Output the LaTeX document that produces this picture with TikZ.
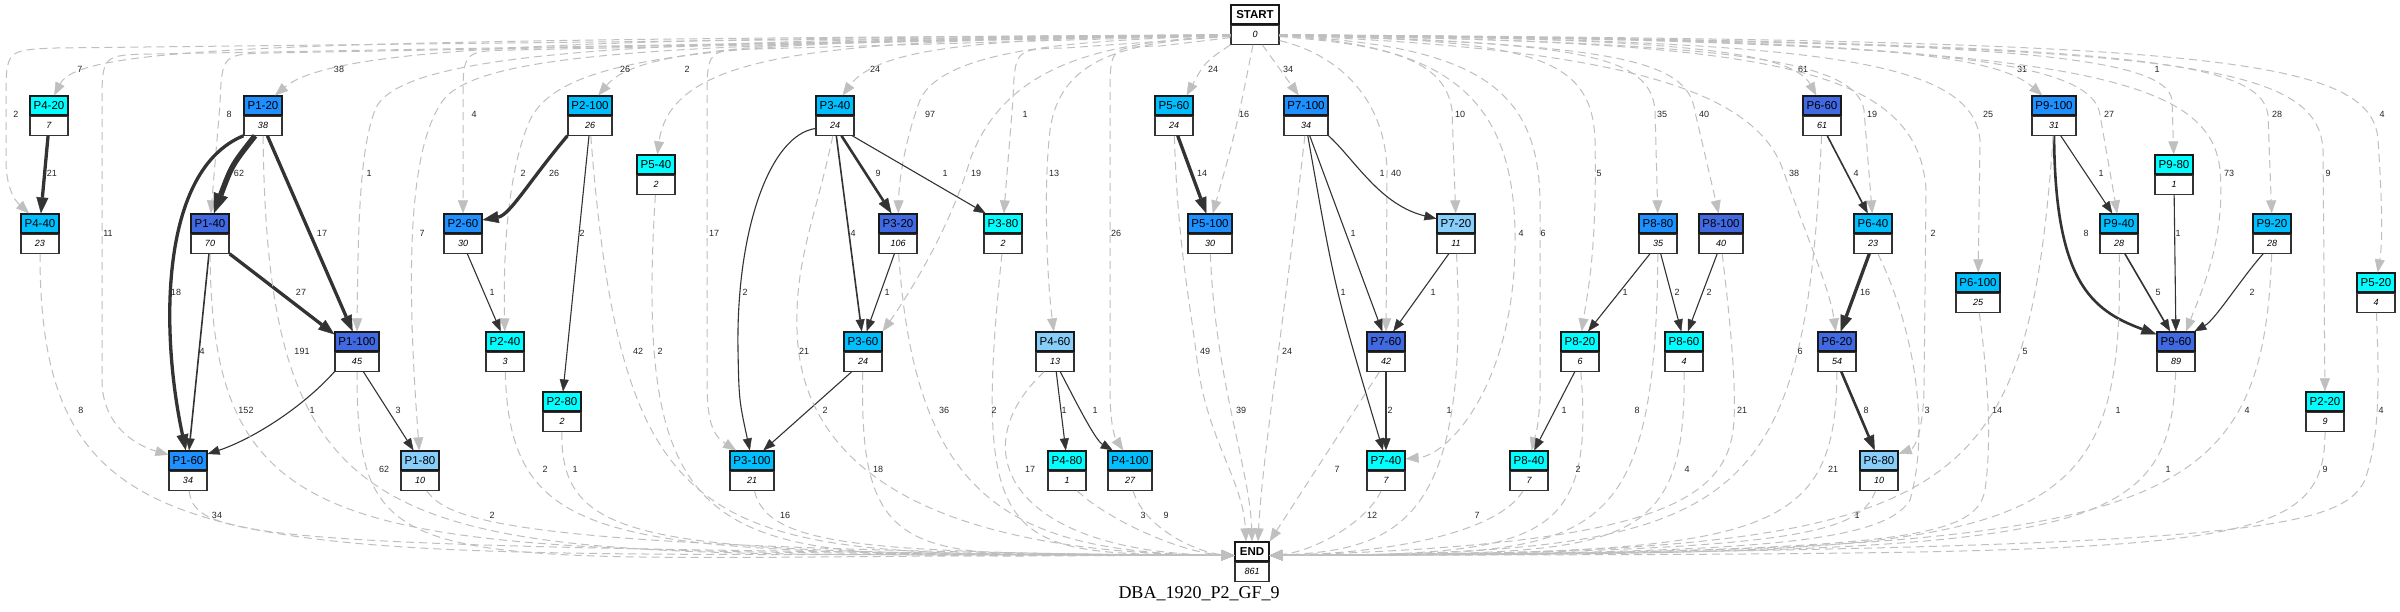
\documentclass[tikz,border=0pt]{standalone}
\usepackage{fontspec}
\setmainfont{Liberation Serif}
\setsansfont{Liberation Sans}
\usetikzlibrary{arrows.meta, positioning}

\definecolor{Cyan}{HTML}{00FFFF}
\definecolor{DeepSkyBlue}{HTML}{00BFFF}
\definecolor{DodgerBlue}{HTML}{1E90FF}
\definecolor{RoyalBlue}{HTML}{4169E1}
\definecolor{LightSkyBlue}{HTML}{87CEFA}

\tikzset{
  ttl/.style={draw=black!90, line width=1.2pt, minimum height=19pt, inner sep=0pt,
    font=\sffamily\fontsize{11.5}{12}\selectfont},
  val/.style={draw=black!80, line width=1.2pt, fill=white, minimum height=19pt, inner sep=0pt,
    font=\sffamily\itshape\fontsize{9}{10}\selectfont},
  elab/.style={font=\sffamily\fontsize{9}{10}\selectfont, text=black!85, inner sep=0pt},
  dedge/.style={draw=gray!50, line width=1pt, dash pattern=on 8pt off 5pt,
    -{Triangle[length=13pt, width=10pt, line width=0.4pt]}},
  sedge/.style={draw=black!80, line width=1.1pt,
    -{Triangle[length=12pt, width=9pt, line width=0.4pt]}},
  w2/.style={line width=1.6pt},
  w3/.style={line width=2.6pt, -{Triangle[length=15pt, width=11pt, line width=0.4pt]}},
  w4/.style={line width=3.3pt, -{Triangle[length=16pt, width=12pt, line width=0.4pt]}},
  w5/.style={line width=5.5pt, -{Triangle[length=20pt, width=15pt, line width=0.4pt]}}
}

\begin{document}
\begin{tikzpicture}[x=1pt, y=-1pt]
    % Canvas
    \fill[white] (0,0) rectangle (2400,612);
    \useasboundingbox (0,0) rectangle (2400,612);

    % Start and end
    \node[ttl, font=\sffamily\bfseries\fontsize{11.5}{12}\selectfont, minimum width=48pt] (START) at (1255,14.5) {START};
    \node[val, minimum width=48pt, below=0pt of START] (START-v) {0};
    \node[ttl, font=\sffamily\bfseries\fontsize{11.5}{12}\selectfont, minimum width=34pt] (END) at (1252,551.5) {END};
    \node[val, minimum width=34pt, below=0pt of END] (END-v) {861};
    \coordinate (endL) at ([yshift=-4pt]END.west);
    \coordinate (endR) at ([yshift=-4pt]END.east);

    % Steps: name/x/top/colour/count/width
    \foreach \nm/\px/\py/\col/\cnt/\bw in {
      P4-20/49/96/Cyan/7/38pt, P1-20/263/96/DodgerBlue/38/38pt, P2-100/590/96/DeepSkyBlue/26/44pt,
      P3-40/835/96/DeepSkyBlue/24/38pt, P5-60/1174/96/DeepSkyBlue/24/38pt, P7-100/1306/96/DodgerBlue/34/44pt,
      P6-60/1822/96/RoyalBlue/61/38pt, P9-100/2054/96/DodgerBlue/31/44pt,
      P5-40/656/155/Cyan/2/38pt, P9-80/2174/155/Cyan/1/38pt,
      P4-40/40/214/DeepSkyBlue/23/38pt, P1-40/210/214/RoyalBlue/70/38pt, P2-60/463/214/DodgerBlue/30/38pt,
      P3-20/898/214/RoyalBlue/106/38pt, P3-80/1003/214/Cyan/2/38pt, P5-100/1210/214/DodgerBlue/30/44pt,
      P7-20/1456/214/LightSkyBlue/11/38pt, P8-80/1658/214/DodgerBlue/35/38pt, P8-100/1721/214/RoyalBlue/40/44pt,
      P6-40/1873/214/DeepSkyBlue/23/38pt, P9-40/2119/214/DeepSkyBlue/28/38pt, P9-20/2272/214/DeepSkyBlue/28/38pt,
      P6-100/1978/273/DeepSkyBlue/25/44pt, P5-20/2376/273/Cyan/4/38pt,
      P1-100/357/332/RoyalBlue/45/44pt, P2-40/505/332/Cyan/3/38pt, P3-60/863/332/DeepSkyBlue/24/38pt,
      P4-60/1055/332/LightSkyBlue/13/38pt, P7-60/1386/332/RoyalBlue/42/38pt, P8-20/1580/332/Cyan/6/38pt,
      P8-60/1684/332/Cyan/4/38pt, P6-20/1837/332/RoyalBlue/54/38pt, P9-60/2176/332/RoyalBlue/89/38pt,
      P2-80/562/392/Cyan/2/38pt, P2-20/2325/392/Cyan/9/38pt,
      P1-60/188/451/DodgerBlue/34/38pt, P1-80/420/451/LightSkyBlue/10/38pt, P3-100/752/451/DeepSkyBlue/21/44pt,
      P4-80/1067/451/Cyan/1/38pt, P4-100/1130/451/DeepSkyBlue/27/44pt, P7-40/1386/451/Cyan/7/38pt,
      P8-40/1529/451/Cyan/7/38pt, P6-80/1879/451/LightSkyBlue/10/38pt} {
      \node[ttl, fill=\col, minimum width=\bw] (\nm) at (\px,\py+9.5) {\nm};
      \node[val, minimum width=\bw, below=0pt of \nm] (\nm-v) {\cnt};
    }

    % Caption
    \node[font=\rmfamily\fontsize{18}{20}\selectfont, anchor=base, inner sep=0pt] (caption) at (1199,598) {DBA\_1920\_P2\_GF\_9};

    % Edges from START, left side
    \draw[dedge] (START-v) -- (56,48) .. controls (6,50) .. (6,100) -- (6,160) .. controls (6,195) and (20,205) .. (P4-40) node[elab] at (16,114) {2};
    \draw[dedge] (START-v) .. controls (300,40) and (80,45) .. (P4-20) node[elab] at (80,69) {7};
    \draw[dedge] (START-v) -- (152,54) .. controls (102,55) .. (102,105) -- (102,380) .. controls (102,425) and (135,445) .. (P1-60) node[elab] at (108,233) {11};
    \draw[dedge] (START-v) -- (272,53) .. controls (222,54) .. (220,104) -- (P1-40) node[elab] at (229,114) {8};
    \draw[dedge] (START-v) .. controls (600,38) and (335,45) .. (P1-20) node[elab] at (339,69) {38};
    \draw[dedge] (START-v) .. controls (700,40) and (400,45) .. (375,110) .. controls (362,145) and (358,200) .. (P1-100) node[elab] at (369,173) {1};
    \draw[dedge] (START-v) .. controls (700,44) and (470,48) .. (440,105) .. controls (405,160) and (408,300) .. (P1-80) node[elab] at (422,233) {7};
    \draw[dedge] (START-v) -- (513,50) .. controls (463,51) .. (463,101) -- (P2-60) node[elab] at (474,114) {4};
    \draw[dedge] (START-v) .. controls (750,40) and (565,48) .. (530,120) .. controls (508,170) and (503,250) .. (P2-40) node[elab] at (523,173) {2};
    \draw[dedge] (START-v) .. controls (800,38) and (640,45) .. (P2-100) node[elab] at (625,69) {26};
    \draw[dedge] (START-v) .. controls (850,40) and (672,45) .. (P5-40) node[elab] at (687,69) {2};
    \draw[dedge] (START-v) -- (757,49) .. controls (707,50) .. (707,100) -- (707,380) .. controls (707,420) and (712,435) .. (P3-100) node[elab] at (714,233) {17};
    \draw[dedge] (START-v) .. controls (1000,38) and (880,45) .. (P3-40) node[elab] at (875,69) {24};
    \draw[dedge] (START-v) .. controls (1100,40) and (945,45) .. (920,100) .. controls (905,140) and (899,180) .. (P3-20) node[elab] at (930,114) {97};
    \draw[dedge] (START-v) .. controls (1100,42) and (1005,65) .. (970,160) .. controls (950,230) and (905,300) .. (P3-60.north east) node[elab] at (976,173) {19};
    \draw[dedge] (START-v) -- (1065,48) .. controls (1015,49) .. (1013,99) -- (P3-80) node[elab] at (1025,114) {1};
    \draw[dedge] (START-v) .. controls (1120,42) and (1060,60) .. (1050,130) .. controls (1044,180) and (1046,270) .. (P4-60) node[elab] at (1054,173) {13};
    \draw[dedge] (START-v) -- (1160,46) .. controls (1110,47) .. (1110,97) -- (1110,390) .. controls (1110,425) and (1115,438) .. (P4-100) node[elab] at (1116,233) {26};
    \draw[dedge] (START-v.south west) .. controls (1205,62) .. ([xshift=-7pt]P5-60.north east) node[elab] at (1213,69) {24};
    \draw[dedge] (START-v) .. controls (1236,130) .. (P5-100) node[elab] at (1244,114) {16};

    % Edges from START, right side
    \draw[dedge] (START-v) -- (P7-100) node[elab] at (1288,69) {34};
    \draw[dedge] (START-v) .. controls (1340,55) and (1385,100) .. (1387,170) -- (P7-60) node[elab] at (1396,173) {40};
    \draw[dedge] (START-v) .. controls (1390,45) and (1445,60) .. (1452,110) -- (P7-20) node[elab] at (1460,114) {10};
    \draw[dedge] (START-v) .. controls (1450,45) and (1512,100) .. (1515,230) .. controls (1518,380) and (1450,455) .. (P7-40) node[elab] at (1521,233) {4};
    \draw[dedge] (START-v) .. controls (1480,45) and (1538,90) .. (1540,200) -- (1540,400) .. controls (1538,425) .. (P8-40) node[elab] at (1543,233) {6};
    \draw[dedge] (START-v) .. controls (1530,40) and (1592,55) .. (1595,140) .. controls (1597,250) and (1588,290) .. (P8-20) node[elab] at (1599,173) {5};
    \draw[dedge] (START-v) .. controls (1580,42) and (1650,55) .. (1655,110) -- (P8-80) node[elab] at (1662,114) {35};
    \draw[dedge] (START-v) .. controls (1610,44) and (1688,58) .. (1695,112) -- (P8-100) node[elab] at (1704,114) {40};
    \draw[dedge] (START-v) .. controls (1620,48) and (1755,90) .. (1783,170) .. controls (1808,240) and (1830,290) .. (P6-20) node[elab] at (1794,173) {38};
    \draw[dedge] (START-v) .. controls (1650,38) and (1790,48) .. (P6-60) node[elab] at (1803,69) {61};
    \draw[dedge] (START-v) .. controls (1700,42) and (1855,55) .. (1864,110) -- (P6-40) node[elab] at (1872,114) {19};
    \draw[dedge] (START-v) .. controls (1750,42) and (1918,60) .. (1926,190) -- (1924,390) .. controls (1923,430) and (1915,448) .. (P6-80) node[elab] at (1933,233) {2};
    \draw[dedge] (START-v) .. controls (1800,40) and (1972,55) .. (1980,140) -- (P6-100) node[elab] at (1988,114) {25};
    \draw[dedge] (START-v) .. controls (1850,38) and (1992,52) .. (P9-100) node[elab] at (2022,69) {31};
    \draw[dedge] (START-v) .. controls (1900,40) and (2092,55) .. (2100,115) -- (P9-40) node[elab] at (2109,114) {27};
    \draw[dedge] (START-v) .. controls (1950,40) and (2165,50) .. (2172,100) -- (P9-80) node[elab] at (2157,69) {1};
    \draw[dedge] (START-v) .. controls (2050,40) and (2210,70) .. (2220,170) .. controls (2226,240) and (2200,295) .. ([xshift=10pt]P9-60.north) node[elab] at (2229,173) {73};
    \draw[dedge] (START-v) .. controls (2100,42) and (2260,55) .. (2268,115) -- (P9-20) node[elab] at (2277,114) {28};
    \draw[dedge] (START-v) .. controls (2150,44) and (2318,55) .. (2323,150) -- (P2-20) node[elab] at (2328,173) {9};
    \draw[dedge] (START-v) .. controls (2200,40) and (2372,55) .. (2378,140) .. controls (2382,200) and (2383,240) .. (P5-20) node[elab] at (2382,114) {4};

    % Edges between steps
    \draw[sedge, w4] (P4-20-v) -- (P4-40) node[elab] at (52,173) {21};
    \draw[sedge, w5] (P1-20-v) .. controls (232,165) .. (P1-40) node[elab] at (239,173) {62};
    \draw[sedge, w4] (P1-20-v.south west) .. controls (160,170) and (160,330) .. (P1-60) node[elab] at (176,292) {18};
    \draw[sedge, w4] (P1-20-v) -- (P1-100) node[elab] at (322,233) {17};
    \draw[sedge, w4] (P1-40-v.south east) -- ([yshift=-3pt]P1-100.north west) node[elab] at (301,292) {27};
    \draw[sedge, w2] (P1-40-v) -- (P1-60) node[elab] at (202,351) {4};
    \draw[sedge] (P1-100-v.south west) .. controls (300,410) and (250,440) .. (P1-60) node[elab] at (312,410) {1};
    \draw[sedge] (P1-100-v) -- (P1-80) node[elab] at (398,410) {3};
    \draw[sedge, w4] (P2-100-v.south west) .. controls (530,180) and (510,215) .. (P2-60) node[elab] at (554,173) {26};
    \draw[sedge] (P2-100-v) -- (P2-80) node[elab] at (582,233) {2};
    \draw[sedge] (P2-60-v) -- (P2-40) node[elab] at (492,292) {1};
    \draw[sedge] (P3-40-v) .. controls (770,135) and (736,230) .. (738,350) .. controls (739,400) .. (P3-100) node[elab] at (745,292) {2};
    \draw[sedge, w3] (P3-40-v) -- (P3-20) node[elab] at (878,173) {9};
    \draw[sedge, w2] (P3-40-v) -- (P3-60) node[elab] at (853,233) {4};
    \draw[sedge] (P3-40-v) -- (P3-80) node[elab] at (945,173) {1};
    \draw[sedge] (P3-20-v) -- (P3-60) node[elab] at (887,292) {1};
    \draw[sedge] (P3-60-v) -- (P3-100) node[elab] at (825,410) {2};
    \draw[sedge, w4] (P5-60-v) -- (P5-100) node[elab] at (1202,173) {14};
    \draw[sedge] (P7-100-v.south east) .. controls (1355,160) and (1380,205) .. (P7-20) node[elab] at (1382,173) {1};
    \draw[sedge] (P7-100-v) -- (P7-60) node[elab] at (1353,233) {1};
    \draw[sedge] (P7-100-v) .. controls (1335,290) .. (P7-40) node[elab] at (1343,292) {1};
    \draw[sedge] (P7-20-v) -- (P7-60) node[elab] at (1433,292) {1};
    \draw[sedge, w2] (P7-60-v) -- (P7-40) node[elab] at (1390,410) {2};
    \draw[sedge] (P4-60-v) -- (P4-80) node[elab] at (1064,410) {1};
    \draw[sedge] (P4-60-v) .. controls (1075,400) and (1095,440) .. (P4-100) node[elab] at (1095,410) {1};
    \draw[sedge] (P8-80-v) -- (P8-20) node[elab] at (1625,292) {1};
    \draw[sedge] (P8-80-v) -- (P8-60) node[elab] at (1677,292) {2};
    \draw[sedge] (P8-100-v) -- (P8-60) node[elab] at (1709,292) {2};
    \draw[sedge] (P8-20-v) -- (P8-40) node[elab] at (1564,410) {1};
    \draw[sedge, w2] (P6-60-v) -- (P6-40) node[elab] at (1856,173) {4};
    \draw[sedge, w4] (P6-40-v) -- (P6-20) node[elab] at (1865,292) {16};
    \draw[sedge, w3] (P6-20-v) -- (P6-80) node[elab] at (1866,410) {8};
    \draw[sedge, w3] (P9-100-v) .. controls (2055,280) and (2090,310) .. (P9-60) node[elab] at (2086,233) {8};
    \draw[sedge] (P9-100-v) -- (P9-40) node[elab] at (2101,173) {1};
    \draw[sedge, w2] (P9-40-v) -- (P9-60) node[elab] at (2158,292) {5};
    \draw[sedge] (P9-80-v) -- (P9-60) node[elab] at (2178,233) {1};
    \draw[sedge] (P9-20-v) .. controls (2240,280) and (2215,320) .. (P9-60) node[elab] at (2252,292) {2};

    % Edges to END, left side
    \draw[dedge] (P4-40-v) .. controls (40,600) and (250,548) .. (endL) node[elab] at (81,410) {8};
    \draw[dedge] (P1-60-v) .. controls (195,540) and (260,548) .. (endL) node[elab] at (217,515) {34};
    \draw[dedge] (P1-40-v) .. controls (212,580) and (380,548) .. (endL) node[elab] at (246,410) {152};
    \draw[dedge] (P1-20-v) .. controls (268,600) and (420,550) .. (endL) node[elab] at (302,351) {191};
    \draw[dedge] (P1-100-v) .. controls (357,600) and (420,552) .. (endL) node[elab] at (384,469) {62};
    \draw[dedge] (P1-80-v) .. controls (450,525) and (540,550) .. (endL) node[elab] at (492,515) {2};
    \draw[dedge] (P2-40-v) .. controls (510,560) and (620,553) .. (endL) node[elab] at (545,469) {2};
    \draw[dedge] (P2-80-v) .. controls (560,552) and (660,553) .. (endL) node[elab] at (575,469) {1};
    \draw[dedge] (P2-100-v) .. controls (625,580) and (720,553) .. (endL) node[elab] at (638,351) {42};
    \draw[dedge] (P5-40-v) .. controls (630,600) and (740,553) .. (endL) node[elab] at (660,351) {2};
    \draw[dedge] (P3-100-v) .. controls (768,548) and (870,553) .. (endL) node[elab] at (785,515) {16};
    \draw[dedge] (P3-40-v) .. controls (815,220) and (795,260) .. (797,330) .. controls (800,450) and (900,553) .. (endL) node[elab] at (804,351) {21};
    \draw[dedge] (P3-60-v) .. controls (858,580) and (920,553) .. (endL) node[elab] at (878,469) {18};
    \draw[dedge] (P3-20-v) .. controls (915,500) and (1010,553) .. (endL) node[elab] at (944,410) {36};
    \draw[dedge] (P3-80-v) .. controls (970,560) and (1010,553) .. (endL) node[elab] at (994,410) {2};
    \draw[dedge] (P4-60-v) .. controls (960,450) and (1010,553) .. (endL) node[elab] at (1030,469) {17};
    \draw[dedge] (P4-80-v) .. controls (1105,518) and (1180,553) .. (endL) node[elab] at (1143,515) {3};
    \draw[dedge] (P4-100-v) .. controls (1145,530) and (1200,553) .. (endL) node[elab] at (1166,515) {9};
    \draw[dedge] (P5-60-v) .. controls (1178,250) and (1190,300) .. (1197,360) .. controls (1207,440) and (1243,480) .. ([xshift=-6pt]END.north) node[elab] at (1205,351) {49};
    \draw[dedge] (P5-100-v) .. controls (1215,380) and (1250,470) .. (END.north) node[elab] at (1241,410) {39};

    % Edges to END, right side
    \draw[dedge] (P7-100-v) .. controls (1283,330) and (1262,460) .. ([xshift=6pt]END.north) node[elab] at (1287,351) {24};
    \draw[dedge] (P7-60-v) -- (END.north east) node[elab] at (1337,469) {7};
    \draw[dedge] (P7-40-v) .. controls (1365,525) and (1310,552) .. (endR) node[elab] at (1372,515) {12};
    \draw[dedge] (P7-20-v) .. controls (1470,520) and (1400,550) .. (endR) node[elab] at (1449,410) {1};
    \draw[dedge] (P8-40-v) .. controls (1500,530) and (1400,553) .. (endR) node[elab] at (1477,515) {7};
    \draw[dedge] (P8-20-v) .. controls (1595,545) and (1540,555) .. (endR) node[elab] at (1578,469) {2};
    \draw[dedge] (P8-80-v) .. controls (1655,565) and (1590,553) .. (endR) node[elab] at (1637,410) {8};
    \draw[dedge] (P8-60-v) .. controls (1686,560) and (1620,553) .. (endR) node[elab] at (1687,469) {4};
    \draw[dedge] (P8-100-v) .. controls (1730,320) and (1736,380) .. (1734,420) .. controls (1730,500) and (1660,545) .. (endR) node[elab] at (1742,410) {21};
    \draw[dedge] (P6-60-v) .. controls (1805,520) and (1740,553) .. (endR) node[elab] at (1800,351) {6};
    \draw[dedge] (P6-20-v) .. controls (1836,545) and (1760,553) .. (endR) node[elab] at (1833,469) {21};
    \draw[dedge] (P6-80-v) .. controls (1860,535) and (1790,553) .. (endR) node[elab] at (1857,515) {1};
    \draw[dedge] (P6-40-v) .. controls (1915,330) and (1930,430) .. (1910,500) .. controls (1880,550) and (1700,553) .. (endR) node[elab] at (1927,410) {3};
    \draw[dedge] (P6-100-v) .. controls (1988,380) and (1992,440) .. (1985,490) .. controls (1975,540) and (1900,553) .. (endR) node[elab] at (1997,410) {14};
    \draw[dedge] (P9-100-v) .. controls (2025,520) and (1960,553) .. (endR) node[elab] at (2025,351) {5};
    \draw[dedge] (P9-40-v) .. controls (2125,560) and (2040,553) .. (endR) node[elab] at (2118,410) {1};
    \draw[dedge] (P9-60-v) .. controls (2170,545) and (2080,553) .. (endR) node[elab] at (2168,469) {1};
    \draw[dedge] (P9-20-v) .. controls (2262,530) and (2150,553) .. (endR) node[elab] at (2247,410) {4};
    \draw[dedge] (P2-20-v) .. controls (2325,560) and (2220,553) .. (endR) node[elab] at (2325,469) {9};
    \draw[dedge] (P5-20-v) .. controls (2380,400) and (2378,440) .. (2365,480) .. controls (2340,530) and (2250,550) .. (endR) node[elab] at (2381,410) {4};

\end{tikzpicture}
\end{document}
